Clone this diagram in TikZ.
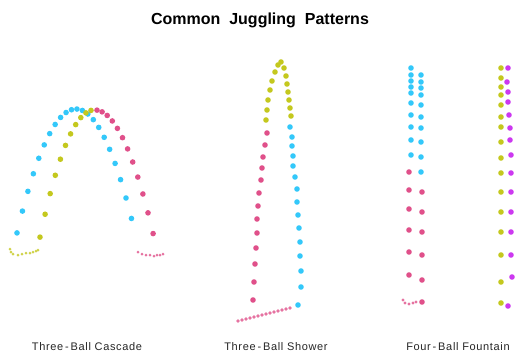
\documentclass[tikz,border=0pt]{standalone}
\usepackage{fontspec}
\setmainfont{Liberation Sans}
\definecolor{bcyan}{HTML}{33C8FA}
\definecolor{byel}{HTML}{C4C81E}
\definecolor{bpink}{HTML}{E0508A}
\definecolor{bmag}{HTML}{CC38F0}
\tikzset{
  ball/.style={fill=#1, draw=none},
  trail/.style={fill=#1!80!white, draw=none},
  lbl/.style={font=\fontsize{11}{13}\selectfont\addfontfeature{LetterSpace=6}, text=black!85},
  ttl/.style={font=\bfseries\fontsize{16}{19}\selectfont, text=black}
}
\begin{document}
\begin{tikzpicture}[x=1pt,y=-1pt]
\useasboundingbox (0,0) rectangle (517,356);
\fill[white] (0,0) rectangle (517,356);
\node[ttl] (title) at (260,20) {Common\ \ Juggling\ \ Patterns};
\node[lbl] (l1) at (87,347) {Three\,-\,Ball Cascade};
\node[lbl] (l2) at (276,347) {Three\,-\,Ball Shower};
\node[lbl] (l3) at (458,347) {Four\,-\,Ball Fountain};
% ---- Cascade ----
\foreach \i in {0,...,21} {
  \pgfmathsetmacro{\xx}{17+\i*5.45}
  \pgfmathsetmacro{\yy}{109+0.0356*(\xx-76)*(\xx-76)}
  \fill[ball=bcyan] (\xx,\yy) circle (2.8);
}
\foreach \i in {0,...,10} {
  \pgfmathsetmacro{\xx}{40+\i*5.1}
  \pgfmathsetmacro{\yy}{110+0.0436*(\xx-94)*(\xx-94)}
  \fill[ball=byel] (\xx,\yy) circle (2.8);
}
\foreach \i in {0,...,11} {
  \pgfmathsetmacro{\xx}{97+\i*5.1}
  \pgfmathsetmacro{\yy}{110+0.0366*(\xx-95)*(\xx-95)}
  \fill[ball=bpink] (\xx,\yy) circle (2.8);
}
\foreach \x/\y in {10/249,11/252,13/254,18/255,22/254,26/253,30/253,33/252,36/251,38/250}
  \fill[trail=byel] (\x,\y) circle (1.5);
\foreach \x/\y in {138/252,142/254,146/255,150/255,154/256,157/255,160/255,163/254}
  \fill[trail=bpink] (\x,\y) circle (1.5);
% ---- Shower ----
\foreach \x/\y in {266/120,267/110,268/100,270/90,272/81,275/72,278/65,281/62,284/68,286/76,287/84,288/92,289/100,290/108,291/116}
  \fill[ball=byel] (\x,\y) circle (2.8);
\foreach \x/\y in {290/127,292/137,292/146,293/156,293/166,295/177,297/189,297/202,298/215,299/228,300/242,300/256,301/271,301/287,298/305}
  \fill[ball=bcyan] (\x,\y) circle (2.8);
\foreach \x/\y in {267/133,265/145,263/157,262/168,261/180,259/193,258/206,257/219,257/233,256/248,255/264,254/282,253/300}
  \fill[ball=bpink] (\x,\y) circle (2.8);
\foreach \x/\y in {238/321,242/320,246/319,250/318,254/317,258/316,262/315,266/314,270/313,274/312,278/311,282/310,286/309,290/308}
  \fill[trail=bpink] (\x,\y) circle (1.9);
% ---- Fountain ----
\foreach \y in {68,75,81,87,93,103,115,127,140,155}
  \fill[ball=bcyan] (411,\y) circle (2.8);
\foreach \y in {172,190,209,230,252,275}
  \fill[ball=bpink] (409,\y) circle (2.8);
\foreach \y in {75,82,88,95,105,117,128,142,157,172}
  \fill[ball=bcyan] (421,\y) circle (2.8);
\foreach \y in {192,212,232,255,280,302}
  \fill[ball=bpink] (422,\y) circle (2.8);
\foreach \x/\y in {403/300,405/303,409/304,413/303,416/302}
  \fill[trail=bpink] (\x,\y) circle (1.6);
\foreach \y in {68,78,87,95,105,117,127,142,158,173,192,212,232,255,282,303}
  \fill[ball=byel] (501,\y) circle (2.8);
\foreach \x/\y in {508/68,507/82,508/92,508/102,509/115,510/128,510/140,511/155,511/173,511/192,511/212,511/232,511/255,512/277,508/306}
  \fill[ball=bmag] (\x,\y) circle (2.8);
\end{tikzpicture}
\end{document}
